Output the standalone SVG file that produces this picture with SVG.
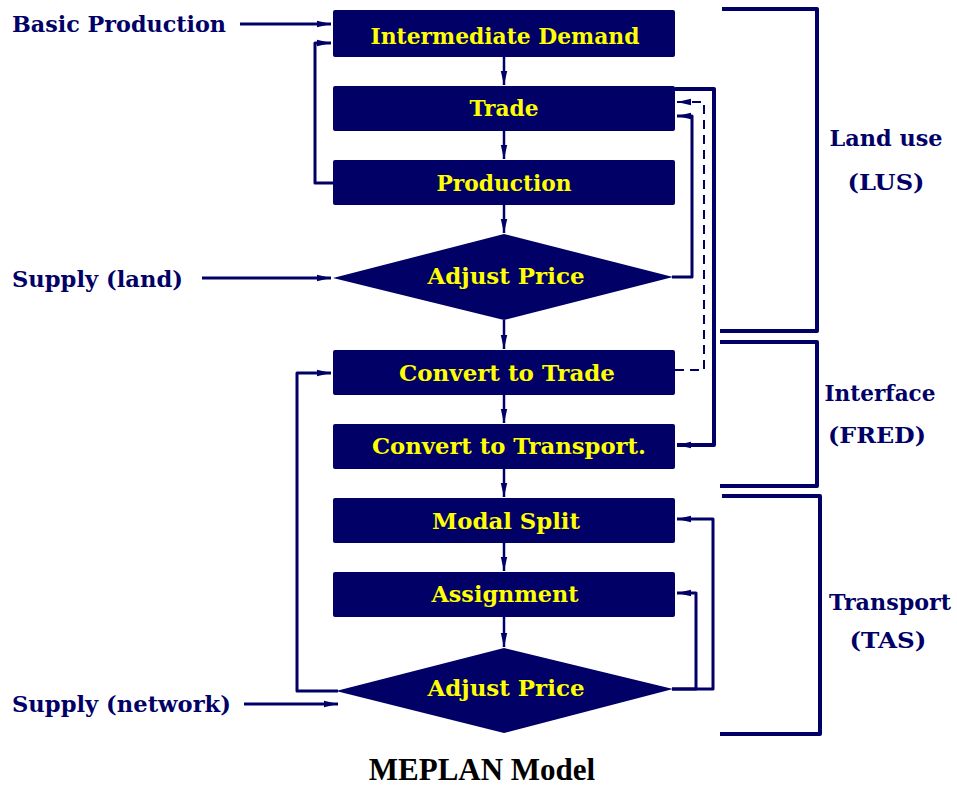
<svg xmlns="http://www.w3.org/2000/svg" width="957" height="787" viewBox="0 0 957 787">
<defs>
<style>
.box{fill:#000066;}
.nt{font-family:"DejaVu Serif","Liberation Serif",serif;font-weight:bold;font-size:22px;fill:#ffff00;text-anchor:middle;}
.lb{font-family:"DejaVu Serif","Liberation Serif",serif;font-weight:bold;font-size:22px;fill:#000066;}
.lc{font-family:"DejaVu Serif","Liberation Serif",serif;font-weight:bold;font-size:22px;fill:#000066;text-anchor:middle;}
.c{fill:none;stroke:#000066;stroke-width:3;stroke-linejoin:round;}
.thin{stroke-width:2.5;}
.thick{stroke-width:4;}
.dash{stroke-width:2;stroke-dasharray:9,6;}
.br{fill:none;stroke:#000066;stroke-width:4;stroke-linejoin:round;}
.title{font-family:"Liberation Serif","Times New Roman",serif;font-weight:bold;font-size:31px;fill:#000000;text-anchor:middle;}
</style>
<marker id="ah" markerUnits="userSpaceOnUse" markerWidth="15" markerHeight="8" refX="14" refY="4" orient="auto">
<path d="M0,0.8 L14,4 L0,7.2 z" fill="#000066"/>
</marker>
</defs>
<rect width="957" height="787" fill="#ffffff"/>

<g id="label-basic"><text class="lb" x="12" y="32" textLength="214" lengthAdjust="spacingAndGlyphs">Basic Production</text></g>
<g id="label-supply-land"><text class="lb" x="12" y="287" textLength="171" lengthAdjust="spacingAndGlyphs">Supply (land)</text></g>
<g id="label-supply-network"><text class="lb" x="12" y="712" textLength="219" lengthAdjust="spacingAndGlyphs">Supply (network)</text></g>

<g id="n-intermediate"><rect class="box" x="333" y="10" width="342" height="47" rx="2"/><text class="nt" x="505" y="44" textLength="269" lengthAdjust="spacingAndGlyphs">Intermediate Demand</text></g>
<g id="n-trade"><rect class="box" x="333" y="86" width="342" height="45" rx="2"/><text class="nt" x="504" y="116" textLength="69" lengthAdjust="spacingAndGlyphs">Trade</text></g>
<g id="n-production"><rect class="box" x="333" y="160" width="342" height="45" rx="2"/><text class="nt" x="504" y="191" textLength="135" lengthAdjust="spacingAndGlyphs">Production</text></g>
<g id="n-adjust1"><polygon class="box" points="333,278 504,234 673,277 504,320"/><text class="nt" x="506" y="284" textLength="157" lengthAdjust="spacingAndGlyphs">Adjust Price</text></g>
<g id="n-conv-trade"><rect class="box" x="333" y="350" width="342" height="45" rx="2"/><text class="nt" x="507" y="381" textLength="216" lengthAdjust="spacingAndGlyphs">Convert to Trade</text></g>
<g id="n-conv-transport"><rect class="box" x="333" y="424" width="342" height="45" rx="2"/><text class="nt" x="509" y="454" textLength="274" lengthAdjust="spacingAndGlyphs">Convert to Transport.</text></g>
<g id="n-modal"><rect class="box" x="333" y="498" width="342" height="45" rx="2"/><text class="nt" x="506" y="529" textLength="148" lengthAdjust="spacingAndGlyphs">Modal Split</text></g>
<g id="n-assignment"><rect class="box" x="333" y="572" width="342" height="45" rx="2"/><text class="nt" x="505" y="602" textLength="147" lengthAdjust="spacingAndGlyphs">Assignment</text></g>
<g id="n-adjust2"><polygon class="box" points="336,691 504,648 673,689 504,733"/><text class="nt" x="506" y="696" textLength="157" lengthAdjust="spacingAndGlyphs">Adjust Price</text></g>

<g id="connectors">
<path class="c thin" d="M504,57 V85" marker-end="url(#ah)"/>
<path class="c thin" d="M504,131 V159" marker-end="url(#ah)"/>
<path class="c thin" d="M504,205 V233" marker-end="url(#ah)"/>
<path class="c thin" d="M504,320 V349" marker-end="url(#ah)"/>
<path class="c thin" d="M504,395 V423" marker-end="url(#ah)"/>
<path class="c thin" d="M504,469 V497" marker-end="url(#ah)"/>
<path class="c thin" d="M504,543 V571" marker-end="url(#ah)"/>
<path class="c thin" d="M504,617 V647" marker-end="url(#ah)"/>

<path class="c" d="M240,24 H331" marker-end="url(#ah)"/>
<path class="c" d="M333,183 H315 V43 H331" marker-end="url(#ah)"/>
<path class="c" d="M202,278 H331" marker-end="url(#ah)"/>
<path class="c" d="M338,691 H297 V373 H331" marker-end="url(#ah)"/>
<path class="c" d="M244,704 H338" marker-end="url(#ah)"/>

<path class="c thick" d="M675,89 H714 V445 H677" marker-end="url(#ah)"/>
<path class="c dash" d="M675,370 H704 V102 H677" marker-end="url(#ah)"/>
<path class="c" d="M672,277 H692 V116 H677" marker-end="url(#ah)"/>
<path class="c" d="M672,689 H713 V519 H677" marker-end="url(#ah)"/>
<path class="c" d="M672,689 H696 V593 H677" marker-end="url(#ah)"/>
</g>

<g id="bracket-lus"><path class="br" d="M722,9 H817 V331 H720"/><text class="lc" x="886" y="146" textLength="113" lengthAdjust="spacingAndGlyphs">Land use</text><text class="lc" x="886" y="190" textLength="77" lengthAdjust="spacingAndGlyphs">(LUS)</text></g>
<g id="bracket-fred"><path class="br" d="M720,342 H817 V486 H720"/><text class="lc" x="880" y="401" textLength="111" lengthAdjust="spacingAndGlyphs">Interface</text><text class="lc" x="877" y="443" textLength="98" lengthAdjust="spacingAndGlyphs">(FRED)</text></g>
<g id="bracket-tas"><path class="br" d="M722,496 H820 V734 H720"/><text class="lc" x="890" y="610" textLength="122" lengthAdjust="spacingAndGlyphs">Transport</text><text class="lc" x="888" y="648" textLength="77" lengthAdjust="spacingAndGlyphs">(TAS)</text></g>

<g id="title"><text class="title" x="482" y="780">MEPLAN Model</text></g>
</svg>
